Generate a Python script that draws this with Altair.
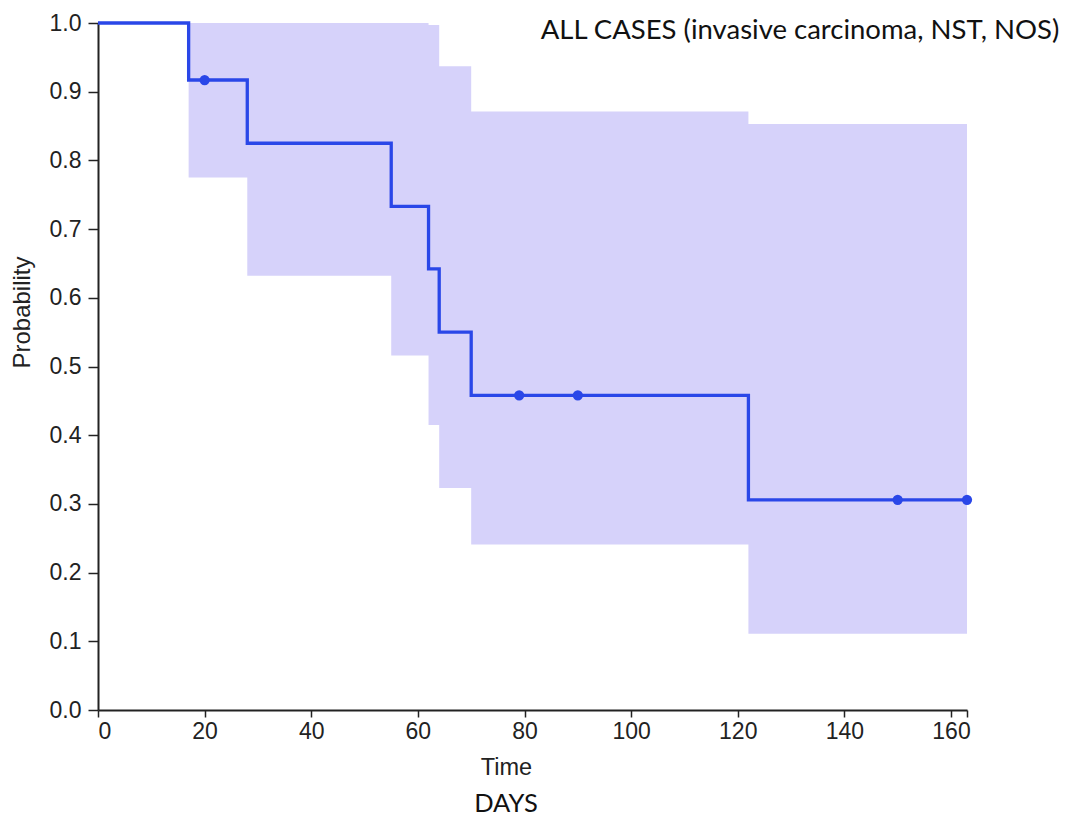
import altair as alt
import pandas as pd

# Kaplan-Meier step curve
times = [0, 17, 20, 28, 55, 62, 64, 70, 79, 90, 122, 150, 163]
survival = [1.0, 0.917, 0.917, 0.825, 0.733, 0.642, 0.55, 0.458, 0.458, 0.458, 0.306, 0.306, 0.306]

# censored observations
cens_times = [20, 79, 90, 150, 163]
cens_surv = [0.917, 0.458, 0.458, 0.306, 0.306]

# confidence band (step intervals)
band_start = [17, 28, 55, 62, 64, 70, 122]
band_end = [28, 55, 62, 64, 70, 122, 163]
band_lower = [0.775, 0.632, 0.516, 0.415, 0.323, 0.241, 0.111]
band_upper = [1.0, 1.0, 1.0, 0.997, 0.937, 0.871, 0.853]

x_ticks = [0, 20, 40, 60, 80, 100, 120, 140, 160, 163]
y_ticks = [0.0, 0.1, 0.2, 0.3, 0.4, 0.5, 0.6, 0.7, 0.8, 0.9, 1.0]

title_text = "ALL CASES (invasive carcinoma, NST, NOS)"
days_text = "DAYS"

curve_df = pd.DataFrame({"Time": times, "Probability": survival})
cens_df = pd.DataFrame({"Time": cens_times, "Probability": cens_surv})
band_df = pd.DataFrame({
    "t": band_start + [band_end[-1]],
    "lo": band_lower + [band_lower[-1]],
    "hi": band_upper + [band_upper[-1]],
})

BLUE = "#2a47e8"
BAND = "#d6d2fa"
AXIS_FONT = "Liberation Sans"

xscale = alt.Scale(domain=[0, 163], nice=False, zero=False)
yscale = alt.Scale(domain=[0, 1], nice=False)

xaxis = alt.Axis(
    title="Time", values=x_ticks,
    labelExpr="datum.value == 163 ? '' : datum.label",
    grid=False, tickSize=7, tickWidth=1.5, domainWidth=2,
    domainColor="#222", tickColor="#222", labelColor="#222",
    labelFont=AXIS_FONT, labelFontSize=23, labelPadding=3,
    titleFont=AXIS_FONT, titleFontSize=23.5, titleFontWeight="normal", titleColor="#222",
    titleX=408, titleY=57, titleBaseline="middle", titleAlign="center",
)
yaxis = alt.Axis(
    title="Probability", values=y_ticks, format=".1f",
    grid=False, tickSize=10, tickWidth=1.5, domainWidth=2,
    domainColor="#222", tickColor="#222", labelColor="#222",
    labelFont=AXIS_FONT, labelFontSize=23, labelPadding=7,
    titleFont=AXIS_FONT, titleFontSize=24, titleFontWeight="normal", titleColor="#222",
    titleX=-76, titleY=289, titleBaseline="middle", titleAlign="center", titleAngle=270,
)

band = alt.Chart(band_df).mark_area(color=BAND, opacity=1, interpolate="step-after").encode(
    x=alt.X("t:Q", scale=xscale, axis=xaxis),
    y=alt.Y("lo:Q", scale=yscale, axis=yaxis),
    y2="hi:Q",
)

line = alt.Chart(curve_df).mark_line(color=BLUE, strokeWidth=3.3, interpolate="step-after").encode(
    x=alt.X("Time:Q", scale=xscale),
    y=alt.Y("Probability:Q", scale=yscale),
)

pts = alt.Chart(cens_df).mark_circle(color=BLUE, size=105, opacity=1).encode(
    x=alt.X("Time:Q", scale=xscale),
    y=alt.Y("Probability:Q", scale=yscale),
)

title_mark = alt.Chart(pd.DataFrame({"label": [title_text]})).mark_text(
    font="Lato", fontSize=27.5, color="#111", align="center", baseline="middle"
).encode(x=alt.value(702), y=alt.value(8), text="label:N")

days_mark = alt.Chart(pd.DataFrame({"label": [days_text]})).mark_text(
    font="Lato", fontSize=25.5, color="#111", align="center", baseline="alphabetic"
).encode(x=alt.value(408), y=alt.value(789), text="label:N")

chart = alt.layer(band, line, pts, title_mark, days_mark).properties(
    width=869, height=687,
    autosize=alt.AutoSizeParams(type="none"),
    padding={"left": 90, "top": 15, "right": 100, "bottom": 107},
).configure_view(stroke=None)

chart.save("out.html", embed_options={"renderer": "svg", "actions": False})
